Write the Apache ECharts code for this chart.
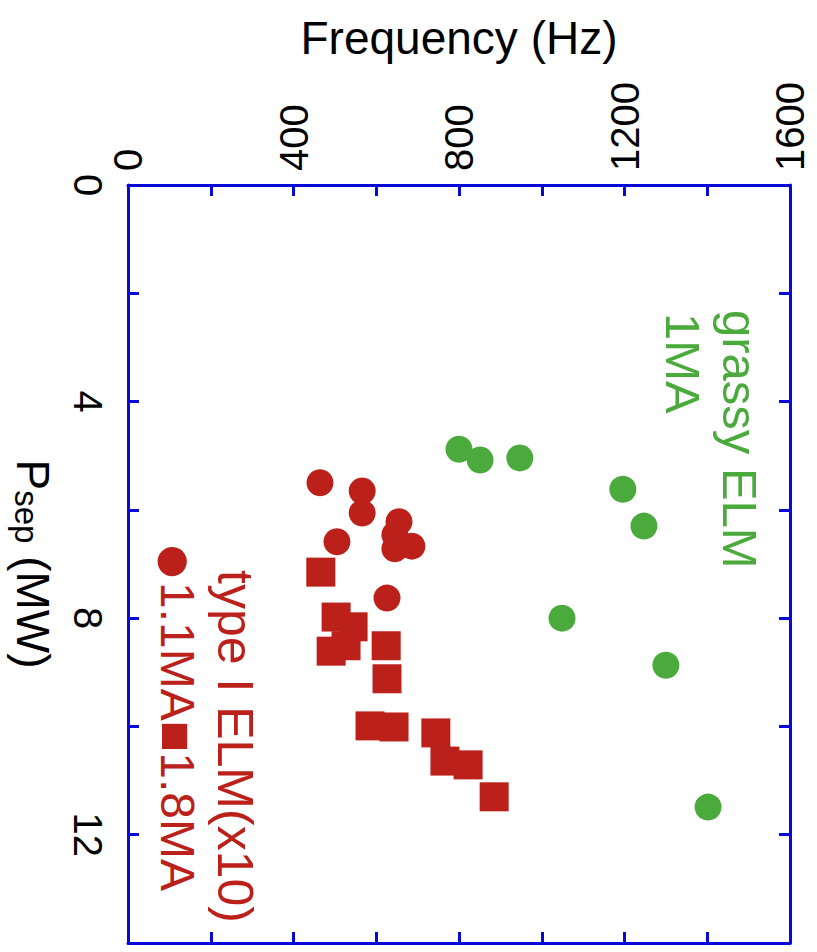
<!DOCTYPE html>
<html>
<head>
<meta charset="utf-8">
<title>ELM frequency vs Psep</title>
<script src="https://cdn.jsdelivr.net/npm/echarts@6/dist/echarts.min.js"></script>
<style>
  html, body { margin: 0; padding: 0; background: #ffffff; }
  #chart { width: 817px; height: 952px; }
</style>
</head>
<body>
<div id="chart"></div>
<script>
// Each point is [frequency (Hz), Psep (MW)]
const grassyElm1MA = [
  [800, 4.88], [851, 5.08], [947, 5.04], [1196, 5.62],
  [1247, 6.30], [1049, 8.00], [1300, 8.87], [1402, 11.49]
];
const typeIElm11MA = [
  [464, 5.50], [566, 5.65], [566, 6.06], [655, 6.22], [645, 6.46],
  [645, 6.72], [686, 6.67], [505, 6.59], [626, 7.63]
];
const typeIElm18MA = [
  [466, 7.15], [503, 7.98], [544, 8.16], [491, 8.61], [527, 8.51],
  [624, 8.51], [626, 9.12], [585, 9.99], [643, 10.01], [744, 10.12],
  [766, 10.64], [822, 10.71], [885, 11.30]
];
const freqTicks = [0, 400, 800, 1200, 1600];
const psepTicks = [0, 4, 8, 12];

const FONT = '"Liberation Sans", Arial, Helvetica, sans-serif';
const BLUE = '#0808d8';
const GREEN = '#4aaa3c';
const RED = '#bb201a';

const axisLine = { show: true, onZero: false, lineStyle: { color: BLUE, width: 3 } };
const axisTick = { show: true, inside: true, length: 11, lineStyle: { color: BLUE, width: 3 } };

const chart = echarts.init(document.getElementById('chart'), null, { renderer: 'svg' });

// Rotated annotation text (reads top to bottom)
function sideText(x, y, text, fill, fontSize, rich) {
  return {
    type: 'text', x, y, rotation: -Math.PI / 2,
    style: {
      text, fill, fontSize, fontFamily: FONT, rich,
      align: 'left', verticalAlign: 'middle', textAlign: 'left', textVerticalAlign: 'middle'
    }
  };
}

chart.setOption({
  backgroundColor: '#ffffff',
  animation: false,
  grid: { left: 128, top: 185, right: 27, bottom: 9, containLabel: false, outerBoundsMode: 'none' },
  xAxis: [
    {
      type: 'value', position: 'top', min: 0, max: 1600, interval: 200,
      axisLine, axisTick, splitLine: { show: false },
      axisLabel: {
        rotate: -90, margin: 14, fontSize: 40, color: '#000', fontFamily: FONT,
        formatter: v => (freqTicks.includes(v) ? String(v) : '')
      },
      name: 'Frequency (Hz)', nameLocation: 'middle', nameGap: 124, nameMoveOverlap: false,
      nameTextStyle: { fontSize: 46, color: '#000', fontFamily: FONT }
    },
    {
      type: 'value', position: 'bottom', min: 0, max: 1600, interval: 200,
      axisLine, axisTick, splitLine: { show: false }, axisLabel: { show: false }
    }
  ],
  yAxis: [
    {
      type: 'value', position: 'left', inverse: true, min: 0, max: 14, interval: 2,
      axisLine, axisTick, splitLine: { show: false },
      axisLabel: {
        rotate: -90, margin: 20, fontSize: 40, color: '#000', fontFamily: FONT,
        formatter: v => (psepTicks.includes(v) ? String(v) : '')
      },
      name: '{p|P}{s|sep}{p| (MW)}', nameLocation: 'middle', nameRotate: -90, nameGap: 72,
      nameMoveOverlap: false,
      nameTextStyle: {
        color: '#000', fontFamily: FONT,
        rich: {
          p: { fontSize: 46, fontFamily: FONT, color: '#000', verticalAlign: 'bottom' },
          s: { fontSize: 33, fontFamily: FONT, color: '#000', verticalAlign: 'bottom' }
        }
      }
    },
    {
      type: 'value', position: 'right', inverse: true, min: 0, max: 14, interval: 2,
      axisLine, axisTick, splitLine: { show: false }, axisLabel: { show: false }
    }
  ],
  series: [
    {
      name: 'grassy ELM 1MA', type: 'scatter', data: grassyElm1MA,
      symbol: 'circle', symbolSize: 27, itemStyle: { color: GREEN, opacity: 1 }
    },
    {
      name: 'type I ELM 1.1MA', type: 'scatter', data: typeIElm11MA,
      symbol: 'circle', symbolSize: 27, itemStyle: { color: RED, opacity: 1 }
    },
    {
      name: 'type I ELM 1.8MA', type: 'scatter', data: typeIElm18MA,
      symbol: 'rect', symbolSize: 29, itemStyle: { color: RED, opacity: 1 }
    }
  ],
  graphic: [
    sideText(740, 310, 'grassy ELM', GREEN, 49),
    sideText(683, 313, '1MA', GREEN, 49),
    sideText(235, 570, 'type I ELM(x10)', RED, 50),
    sideText(177, 541, '{b|\u25CF}{t|1.1MA}{q|\u25A0}{t|1.8MA}', RED, 48, {
      b: { fontSize: 68, fontFamily: FONT, fill: RED, color: RED },
      t: { fontSize: 48, fontFamily: FONT, fill: RED, color: RED },
      q: { fontSize: 52, fontFamily: FONT, fill: RED, color: RED }
    })
  ]
});
</script>
</body>
</html>
